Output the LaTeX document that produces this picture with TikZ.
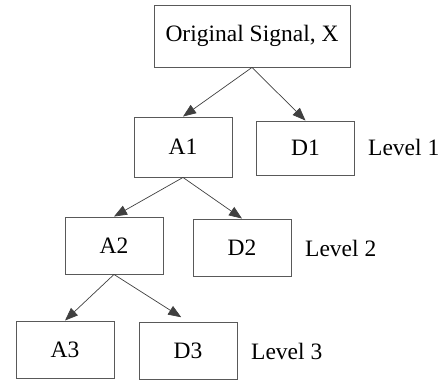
\documentclass[tikz,border=0pt]{standalone}
\usepackage{fontspec}
\setmainfont{Liberation Serif}
\usetikzlibrary{
    arrows.meta,
    positioning
}
\tikzset{%
    >={Triangle[width=10pt,length=13pt]},
    % Specifications for style of nodes:
    plain/.style = {font=\fontsize{23.5}{28}\selectfont, inner sep=0pt},
    base/.style = {
        plain,
        rectangle, draw=black!65, line width=0.9pt,
        minimum width=98pt, minimum height=57pt,
        text centered, fill=white
    },
    levelnote/.style = {plain, anchor=west},
    link/.style = {->, draw=black!75, line width=0.7pt}
}

\begin{document}
\begin{tikzpicture}[x=1pt, y=-1pt]
                \useasboundingbox (0,0) rectangle (445,380);
                \node[base, minimum width=196pt, minimum height=62pt] (X) at (252,36) {Original Signal, X};
                \node[base, minimum height=60pt] (A1) at (183,147) {A1};
                \node[base, minimum height=54pt] (D1) at (305.5,148) {D1};
                \node[base] (A2) at (114,245.5) {A2};
                \node[base] (D2) at (242,247.5) {D2};
                \node[base] (A3) at (65,349.5) {A3};
                \node[base] (D3) at (188,350.5) {D3};
                \node[levelnote] (L1) at (368,147) {Level 1};
                \node[levelnote] (L2) at (305,248) {Level 2};
                \node[levelnote] (L3) at (251,351) {Level 3};
                \draw[link] (X.south) -- (A1.north);
                \draw[link] (X.south) -- (D1.north);
                \draw[link] (A1.south) -- (A2.north);
                \draw[link] (A1.south) -- (D2.north);
                \draw[link] (A2.south) -- (A3.north);
                \draw[link, shorten >=8pt] (A2.south) -- (D3.north);
            \end{tikzpicture}
\end{document}
